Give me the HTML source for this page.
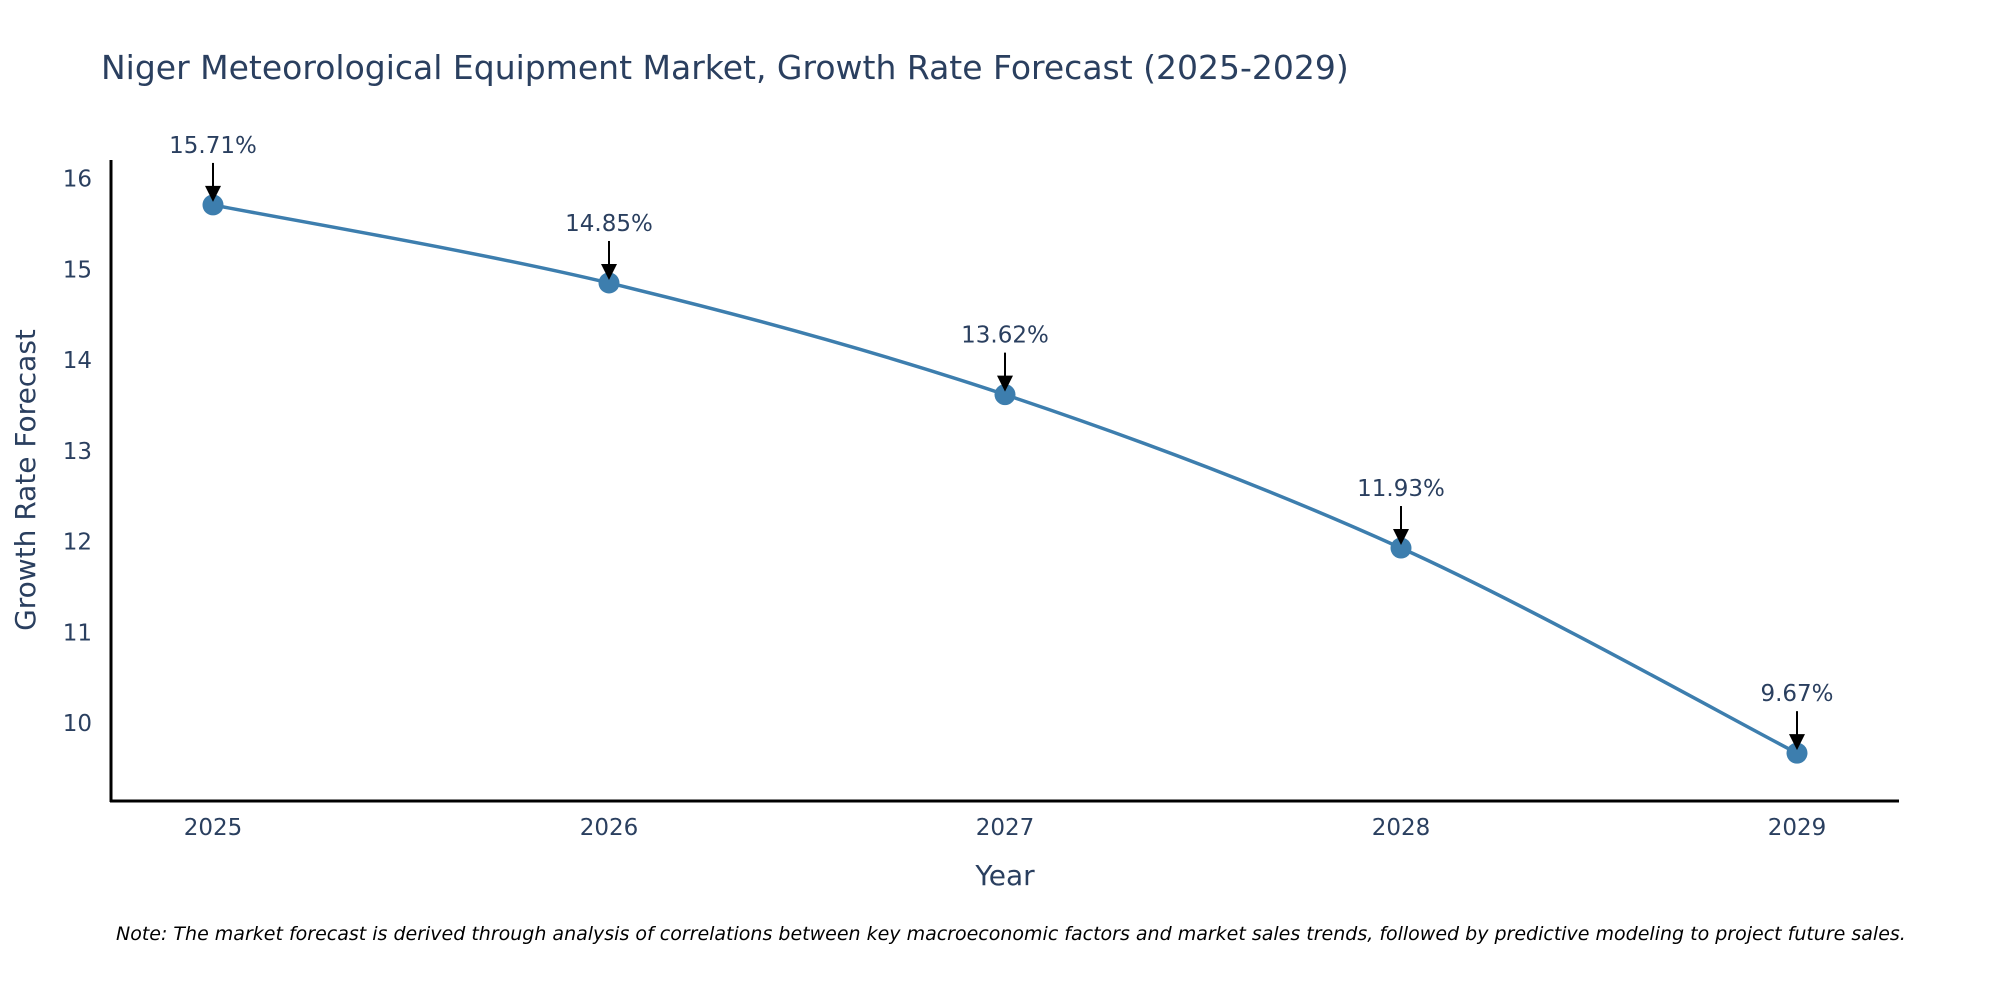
<!DOCTYPE html>
<html><head><meta charset="utf-8"><style>
body{margin:0;background:#fff;}
svg{display:block;font-family:"DejaVu Sans","Liberation Sans",sans-serif;}
</style></head><body>
<svg id="chart" width="2000" height="1000" viewBox="0 0 2000 1000">
<text x="101" y="79" font-size="33" fill="#2a3f5f">Niger Meteorological Equipment Market, Growth Rate Forecast (2025-2029)</text>
<g id="yticks"></g>
<g id="xticks"></g>
<line x1="111" y1="160" x2="111" y2="802" stroke="#000" stroke-width="3"/>
<line x1="110" y1="801" x2="1899" y2="801" stroke="#000" stroke-width="3"/>
<text transform="translate(35,480) rotate(-90)" text-anchor="middle" font-size="28" fill="#2a3f5f">Growth Rate Forecast</text>
<text x="1005" y="885" text-anchor="middle" font-size="28" fill="#2a3f5f">Year</text>
<path id="line" fill="none" stroke="#3d7eae" stroke-width="3.5"/>
<g id="marks"></g>
<text x="116" y="940" font-size="19" font-style="italic" fill="#000">Note: The market forecast is derived through analysis of correlations between key macroeconomic factors and market sales trends, followed by predictive modeling to project future sales.</text>
</svg>
<script>
const years = ["2025","2026","2027","2028","2029"];
const values = [15.71, 14.85, 13.62, 11.93, 9.67];
const labels = ["15.71%","14.85%","13.62%","11.93%","9.67%"];
const yTicks = [10,11,12,13,14,15,16];
const NS="http://www.w3.org/2000/svg";
const xs=i=>213+i*(1797-213)/(years.length-1);
const ys=v=>723.2-(v-10)*(723.2-178.6)/6;
const yt=document.getElementById('yticks');
yTicks.forEach(t=>{const e=document.createElementNS(NS,'text');


e.setAttribute('x',92);e.setAttribute('y',ys(t)+8);e.setAttribute('text-anchor','end');e.setAttribute('font-size','23');e.setAttribute('fill','#2a3f5f');e.textContent=t;yt.appendChild(e);});
const xt=document.getElementById('xticks');
years.forEach((y,i)=>{const e=document.createElementNS(NS,'text');


e.setAttribute('x',xs(i));e.setAttribute('y',835);e.setAttribute('text-anchor','middle');e.setAttribute('font-size','23');e.setAttribute('fill','#2a3f5f');e.textContent=y;xt.appendChild(e);});
const P=values.map((v,i)=>[xs(i),ys(v)]);
let d=`M${P[0][0]},${P[0][1]}`;
for(let i=0;i<P.length-1;i++){const p0=P[Math.max(0,i-1)],p1=P[i],p2=P[i+1],p3=P[Math.min(P.length-1,i+2)];const k=1/6;
d+=` C${p1[0]+(p2[0]-p0[0])*k},${p1[1]+(p2[1]-p0[1])*k} ${p2[0]-(p3[0]-p1[0])*k},${p2[1]-(p3[1]-p1[1])*k} ${p2[0]},${p2[1]}`;}
document.getElementById('line').setAttribute('d',d);
const g=document.getElementById('marks');
P.forEach((p,i)=>{
const c=document.createElementNS(NS,'circle');


c.setAttribute('cx',p[0]);c.setAttribute('cy',p[1]);c.setAttribute('r',10.5);c.setAttribute('fill','#3d7eae');g.appendChild(c);
const l=document.createElementNS(NS,'line');


l.setAttribute('x1',p[0]);l.setAttribute('y1',p[1]-42);l.setAttribute('x2',p[0]);l.setAttribute('y2',p[1]-14);l.setAttribute('stroke','#000');l.setAttribute('stroke-width','2');g.appendChild(l);
const a=document.createElementNS(NS,'polygon');


a.setAttribute('points',`${p[0]-8},${p[1]-19} ${p[0]+8},${p[1]-19} ${p[0]},${p[1]-3}`);a.setAttribute('fill','#000');g.appendChild(a);
const t=document.createElementNS(NS,'text');


t.setAttribute('x',p[0]);t.setAttribute('y',p[1]-52);t.setAttribute('text-anchor','middle');t.setAttribute('font-size','23');t.setAttribute('fill','#2a3f5f');t.textContent=labels[i];g.appendChild(t);
});
</script>
</body></html>
